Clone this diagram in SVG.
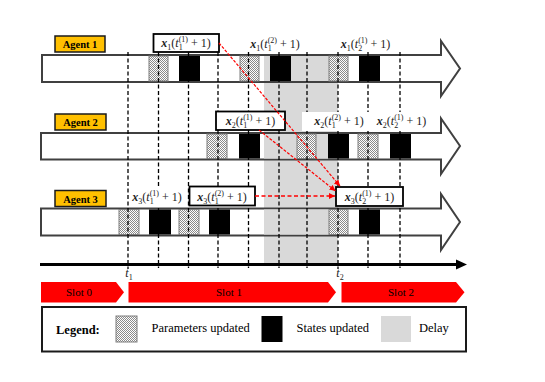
<svg xmlns="http://www.w3.org/2000/svg" width="545" height="382" viewBox="0 0 545 382">
<style>
.bar{fill:#fff;stroke:#404040;stroke-width:2}
.dl{fill:#d9d9d9}
.hb{fill:url(#chk);stroke:#7f7f7f;stroke-width:1}
.sb{fill:#000}
.tag{fill:#ffc000;stroke:#1a1a1a;stroke-width:1.5}
.tagt{font-family:"Liberation Serif",serif;font-weight:bold;font-size:10.5px;fill:#000;text-anchor:middle}
.gd{stroke:#000;stroke-width:1.3;stroke-dasharray:4 2.5;fill:none}
.lb{font-family:"Liberation Serif",serif;font-size:12px;fill:#222;text-anchor:middle}
.bx{font-weight:bold;font-style:italic}
.it{font-style:italic}
.s{font-size:8px}
.box{fill:#fff;stroke:#000;stroke-width:1.8}
.wbg{fill:#fff}
.rd{stroke:#ff0000;stroke-width:1.2;stroke-dasharray:3 1.5;fill:none}
.rh{stroke:#ff0000;stroke-width:1.4;stroke-dasharray:4 2.5;fill:none}
.slot{fill:#ff0000}
.st{font-family:"Liberation Serif",serif;font-size:11px;fill:#000;text-anchor:middle}
.lg{font-family:"Liberation Serif",serif;font-size:12.5px;fill:#000}
</style>
<defs>
<pattern id="chk" width="2" height="2" patternUnits="userSpaceOnUse"><rect width="2" height="2" fill="#fff"/><rect width="1" height="1" fill="#8a8a8a"/><rect x="1" y="1" width="1" height="1" fill="#8a8a8a"/></pattern>
<marker id="ra" markerWidth="6" markerHeight="6" refX="6" refY="3" orient="auto" markerUnits="userSpaceOnUse"><path d="M0,0 L6,3 L0,6 z" fill="#ff0000"/></marker>
</defs>
<rect width="545" height="382" fill="#fff"/>
<rect id="delay-region" class="dl" x="264" y="55" width="74" height="208"/>

<g id="agent1">
<polygon class="bar" points="42,55 441,55 441,41 460,68.5 441,96 441,82 42,82"/>
<rect class="dl" x="264" y="56" width="74" height="25"/>
<rect class="hb" x="149" y="56" width="19" height="25"/><rect class="sb" x="179" y="56" width="21" height="25"/>
<rect class="hb" x="240" y="56" width="19" height="25"/><rect class="sb" x="270" y="56" width="21" height="25"/>
<rect class="hb" x="329" y="56" width="19" height="25"/><rect class="sb" x="359" y="56" width="21" height="25"/>
<rect class="tag" x="55" y="36" width="50" height="16"/><text class="tagt" x="80" y="48">Agent 1</text>
</g>
<g id="agent2">
<polygon class="bar" points="41,133 441,133 441,118.5 460,146 441,174 441,159.5 41,159.5"/>
<rect class="dl" x="264" y="134" width="74" height="24.5"/>
<rect class="hb" x="207" y="134" width="20" height="24.5"/><rect class="sb" x="239" y="134" width="21" height="24.5"/>
<rect class="hb" x="297" y="134" width="19" height="24.5"/><rect class="sb" x="328" y="134" width="21" height="24.5"/>
<rect class="hb" x="358" y="134" width="20" height="24.5"/><rect class="sb" x="390" y="134" width="21" height="24.5"/>
<rect class="tag" x="55" y="114" width="51" height="16"/><text class="tagt" x="80.5" y="126">Agent 2</text>
</g>
<g id="agent3">
<polygon class="bar" points="41,208.5 441,208.5 441,194 460,222 441,250 441,235.5 41,235.5"/>
<rect class="dl" x="264" y="209.5" width="74" height="25"/>
<rect class="hb" x="119" y="209.5" width="20" height="25"/><rect class="sb" x="149" y="209.5" width="22" height="25"/>
<rect class="hb" x="179" y="209.5" width="20" height="25"/><rect class="sb" x="209" y="209.5" width="21" height="25"/>
<rect class="hb" x="329" y="209.5" width="19" height="25"/><rect class="sb" x="359" y="209.5" width="21" height="25"/>
<rect class="tag" x="55" y="190.5" width="51" height="16"/><text class="tagt" x="80.5" y="202.5">Agent 3</text>
</g>

<g id="guides">
<line class="gd" x1="128" y1="52" x2="128" y2="269"/>
<line class="gd" x1="158.5" y1="52" x2="158.5" y2="268"/>
<line class="gd" x1="188.5" y1="52" x2="188.5" y2="268"/>
<line class="gd" x1="218" y1="52" x2="218" y2="268"/>
<line class="gd" x1="248.5" y1="52" x2="248.5" y2="268"/>
<line class="gd" x1="279" y1="52" x2="279" y2="268"/>
<line class="gd" x1="307" y1="52" x2="307" y2="268"/>
<line class="gd" x1="338" y1="52" x2="338" y2="269"/>
<line class="gd" x1="368" y1="52" x2="368" y2="268"/>
<line class="gd" x1="400" y1="52" x2="400" y2="268"/>
</g>

<g id="time-axis">
<line x1="40" y1="264.5" x2="458" y2="264.5" stroke="#000" stroke-width="3"/>
<polygon points="456,259.5 467,264.5 456,269.5" fill="#000"/>
<text class="lb" x="129" y="277"><tspan class="it">t</tspan><tspan class="s" dy="3">1</tspan></text>
<text class="lb" x="340" y="277"><tspan class="it">t</tspan><tspan class="s" dy="3">2</tspan></text>
</g>

<g id="label-x1-t1-1">
<rect class="box" x="153.5" y="34" width="65.5" height="18"/>
<text class="lb" x="186" y="47"><tspan class="bx">x</tspan><tspan class="s" dy="3">1</tspan><tspan dy="-3">(</tspan><tspan class="it">t</tspan><tspan class="s" dy="-5.5">(1)</tspan><tspan class="s" dx="-9.3" dy="8.5">1</tspan><tspan dx="5.3" dy="-3"> + 1)</tspan></text>
</g>
<g id="label-x1-t1-2">
<text class="lb" x="275" y="48"><tspan class="bx">x</tspan><tspan class="s" dy="3">1</tspan><tspan dy="-3">(</tspan><tspan class="it">t</tspan><tspan class="s" dy="-5.5">(2)</tspan><tspan class="s" dx="-9.3" dy="8.5">1</tspan><tspan dx="5.3" dy="-3"> + 1)</tspan></text>
</g>
<g id="label-x1-t2-1">
<text class="lb" x="365.5" y="48"><tspan class="bx">x</tspan><tspan class="s" dy="3">1</tspan><tspan dy="-3">(</tspan><tspan class="it">t</tspan><tspan class="s" dy="-5.5">(1)</tspan><tspan class="s" dx="-9.3" dy="8.5">2</tspan><tspan dx="5.3" dy="-3"> + 1)</tspan></text>
</g>
<g id="label-x2-t1-1">
<rect class="box" x="216" y="111.5" width="69" height="18.5"/>
<text class="lb" x="250.5" y="125"><tspan class="bx">x</tspan><tspan class="s" dy="3">2</tspan><tspan dy="-3">(</tspan><tspan class="it">t</tspan><tspan class="s" dy="-5.5">(1)</tspan><tspan class="s" dx="-9.3" dy="8.5">1</tspan><tspan dx="5.3" dy="-3"> + 1)</tspan></text>
</g>
<rect class="wbg" x="302" y="112" width="129" height="19"/>
<g id="label-x2-t1-2">
<text class="lb" x="339" y="125"><tspan class="bx">x</tspan><tspan class="s" dy="3">2</tspan><tspan dy="-3">(</tspan><tspan class="it">t</tspan><tspan class="s" dy="-5.5">(2)</tspan><tspan class="s" dx="-9.3" dy="8.5">1</tspan><tspan dx="5.3" dy="-3"> + 1)</tspan></text>
</g>
<g id="label-x2-t2-1">
<text class="lb" x="401.5" y="125"><tspan class="bx">x</tspan><tspan class="s" dy="3">2</tspan><tspan dy="-3">(</tspan><tspan class="it">t</tspan><tspan class="s" dy="-5.5">(1)</tspan><tspan class="s" dx="-9.3" dy="8.5">2</tspan><tspan dx="5.3" dy="-3"> + 1)</tspan></text>
</g>
<g id="label-x3-t1-1">
<rect class="wbg" x="130" y="187" width="57" height="19"/>
<text class="lb" x="157" y="201"><tspan class="bx">x</tspan><tspan class="s" dy="3">3</tspan><tspan dy="-3">(</tspan><tspan class="it">t</tspan><tspan class="s" dy="-5.5">(1)</tspan><tspan class="s" dx="-9.3" dy="8.5">1</tspan><tspan dx="5.3" dy="-3"> + 1)</tspan></text>
</g>
<g id="label-x3-t1-2">
<rect class="box" x="189.5" y="186.5" width="65.5" height="19"/>
<text class="lb" x="222" y="201"><tspan class="bx">x</tspan><tspan class="s" dy="3">3</tspan><tspan dy="-3">(</tspan><tspan class="it">t</tspan><tspan class="s" dy="-5.5">(2)</tspan><tspan class="s" dx="-9.3" dy="8.5">1</tspan><tspan dx="5.3" dy="-3"> + 1)</tspan></text>
</g>
<g id="label-x3-t2-1">
<rect class="box" x="336" y="187" width="67" height="19"/>
<text class="lb" x="369.5" y="201"><tspan class="bx">x</tspan><tspan class="s" dy="3">3</tspan><tspan dy="-3">(</tspan><tspan class="it">t</tspan><tspan class="s" dy="-5.5">(1)</tspan><tspan class="s" dx="-9.3" dy="8.5">2</tspan><tspan dx="5.3" dy="-3"> + 1)</tspan></text>
</g>

<g id="connectors">
<line class="rd" x1="219" y1="43" x2="340" y2="186" marker-end="url(#ra)"/>
<line class="rd" x1="259" y1="130" x2="335.5" y2="191" marker-end="url(#ra)"/>
<line class="rh" x1="255" y1="196" x2="335" y2="196" marker-end="url(#ra)"/>
</g>

<g id="slots">
<polygon class="slot" points="41,282 116,282 124,292.3 116,302.5 41,302.5"/>
<text class="st" x="79" y="296">Slot 0</text>
<polygon class="slot" points="128.5,282 328,282 336,292.3 328,302.5 128.5,302.5"/>
<text class="st" x="229" y="296">Slot 1</text>
<polygon class="slot" points="341.5,282 456,282 464.5,292.3 456,302.5 341.5,302.5"/>
<text class="st" x="401" y="296">Slot 2</text>
</g>

<g id="legend">
<rect x="42" y="307" width="424" height="44.5" fill="#fff" stroke="#1a1a1a" stroke-width="2"/>
<text class="lg" x="56" y="334" font-weight="bold">Legend:</text>
<rect class="hb" x="116" y="316" width="21" height="26"/>
<text class="lg" x="151.5" y="332">Parameters updated</text>
<rect class="sb" x="261.5" y="316" width="21" height="26"/>
<text class="lg" x="296.5" y="332">States updated</text>
<rect class="dl" x="381" y="316" width="30" height="26"/>
<text class="lg" x="419" y="332">Delay</text>
</g>
</svg>
